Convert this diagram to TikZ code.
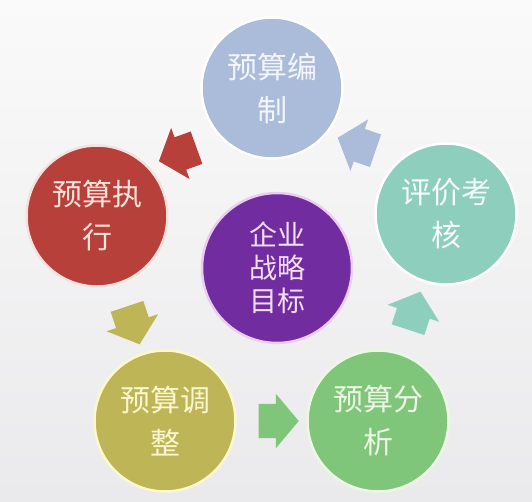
\documentclass[tikz,border=0pt]{standalone}
\usepackage{fontspec}
\newfontfamily\cjk{Noto Sans CJK SC}
\usetikzlibrary{shapes.arrows}
\definecolor{cblue}{RGB}{170,188,217}
\definecolor{cred}{RGB}{183,64,58}
\definecolor{cteal}{RGB}{141,206,189}
\definecolor{cpurple}{RGB}{113,45,160}
\definecolor{colive}{RGB}{190,181,86}
\definecolor{cgreen}{RGB}{128,198,122}
\definecolor{bgtop}{RGB}{250,250,250}
\definecolor{bgbot}{RGB}{234,234,236}
\tikzset{
  disc/.style={circle, fill=#1, draw=white, line width=2.5pt, minimum size=141pt, inner sep=0pt,
    align=center, font=\cjk\fontsize{30}{43}\selectfont},
  fatarrow/.style={single arrow, draw=none, fill=#1, minimum height=40pt, minimum width=0pt,
    single arrow head extend=10pt, single arrow tip angle=100, inner xsep=0pt, inner ysep=17pt,
    sloped, allow upside down, midway}
}
\begin{document}
\begin{tikzpicture}[x=1pt,y=-1pt]
\shade[top color=bgtop, bottom color=bgbot] (0,0) rectangle (532,501);
\useasboundingbox (0,0) rectangle (532,501);
\node[disc=cblue, text={rgb,255:red,243;green,245;blue,250}] (top) at (272,88) {预算编\\制};
\node[disc=cred, draw={rgb,255:red,245;green,225;blue,222}, text={rgb,255:red,250;green,228;blue,220}] (left) at (97,216) {预算执\\行};
\node[disc=cteal, text={rgb,255:red,246;green,252;blue,249}] (right) at (446,214) {评价考\\核};
\node[disc=colive, draw={rgb,255:red,252;green,248;blue,205}, text={rgb,255:red,250;green,246;blue,205}] (bl) at (165,421) {预算调\\整};
\node[disc=cgreen, draw={rgb,255:red,235;green,248;blue,228}, text={rgb,255:red,236;green,247;blue,228}] (br) at (378,421) {预算分\\析};
\node[disc=cpurple, minimum size=150pt, draw={rgb,255:red,236;green,205;blue,240},
      text={rgb,255:red,242;green,222;blue,242}, font=\cjk\fontsize{28}{33}\selectfont] (mid) at (277,268) {企业\\战略\\目标};
\path (top.225) -- (left.45) node[fatarrow=cred] (a1) {};
\path (left) -- (bl) node[fatarrow=colive] (a2) {};
\path (bl) -- (br) node[fatarrow=cgreen] (a3) {};
\path (br) -- (right) node[fatarrow=cteal] (a4) {};
\path (right.130) -- (top.-40) node[fatarrow=cblue] (a5) {};
\end{tikzpicture}
\end{document}
